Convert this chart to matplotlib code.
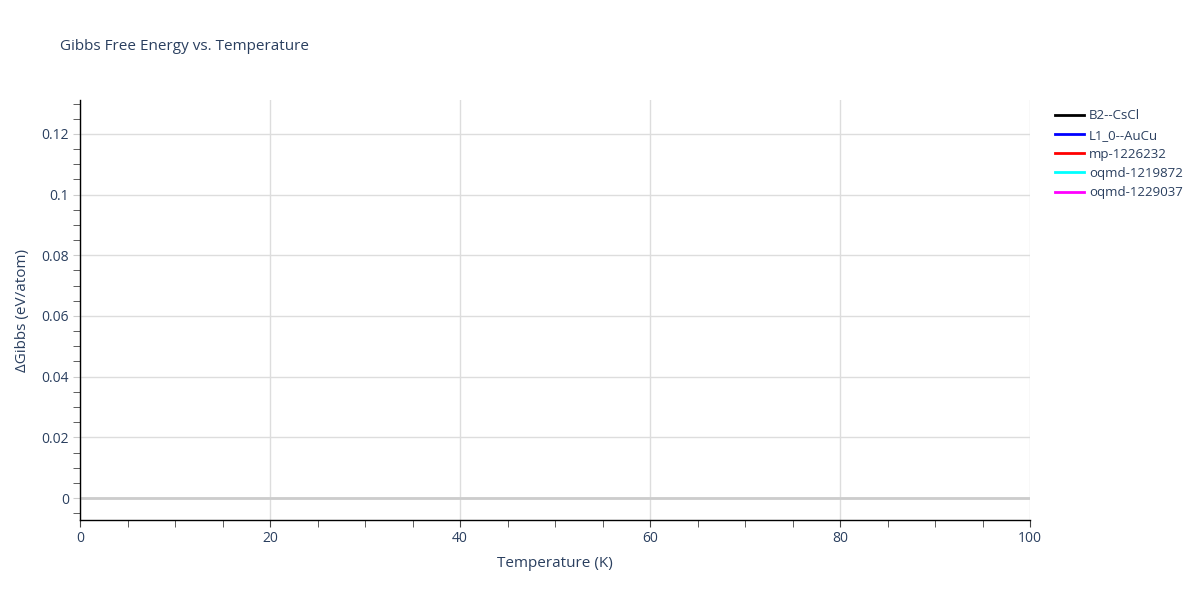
import numpy as np
import matplotlib.pyplot as plt
from matplotlib.ticker import MultipleLocator

# the traces in the reference hold no visible points, so the series are empty
phases = ['B2--CsCl', 'L1_0--AuCu', 'mp-1226232', 'oqmd-1219872', 'oqmd-1229037']
colors = ['black', 'blue', 'red', 'cyan', 'magenta']
temperature = [[], [], [], [], []]
dgibbs = [[], [], [], [], []]

plt.rcParams['font.family'] = ['Open Sans', 'DejaVu Sans']
txt = '#2a3f5f'

fig = plt.figure(figsize=(12, 6), dpi=100)
ax = fig.add_axes([80/1200, 80/600, 950/1200, 420/600])

for name, c, t, g in zip(phases, colors, temperature, dgibbs):
    ax.plot(t, g, color=c, lw=2, label=name)

ax.set_xlim(0, 100)
ax.set_ylim(-0.00725, 0.1312)
ax.xaxis.set_major_locator(MultipleLocator(20))
ax.xaxis.set_minor_locator(MultipleLocator(5))
ax.yaxis.set_major_locator(MultipleLocator(0.02))
ax.yaxis.set_minor_locator(MultipleLocator(0.005))
ax.yaxis.set_major_formatter(plt.FuncFormatter(lambda v, p: '0' if abs(v) < 1e-9 else f'{v:g}'))

ax.grid(True, which='major', color='#dddddd', lw=1)
ax.axhline(0, color='#cccccc', lw=2, zorder=1)
ax.set_axisbelow(True)
for s in ['top', 'right']:
    ax.spines[s].set_visible(False)
for s in ['left', 'bottom']:
    ax.spines[s].set_color('black')
    ax.spines[s].set_linewidth(1)

ax.tick_params(which='major', length=5, color='#cccccc', labelsize=10, labelcolor=txt, pad=3)
ax.tick_params(which='minor', length=5, color='#444444')
ax.tick_params(axis='x', which='major', color='#444444')

ax.set_xlabel('Temperature (K)', fontsize=11, color=txt, labelpad=7)
ax.set_ylabel('ΔGibbs (eV/atom)', fontsize=11, color=txt, labelpad=8)
fig.text(60/1200, 1 - 46/600, 'Gibbs Free Energy vs. Temperature', fontsize=11,
         color=txt, va='center')

ax.legend(loc='upper left', bbox_to_anchor=(1.0205, 0.99), frameon=False,
          fontsize=9.5, labelcolor=txt, handlelength=2.2, handletextpad=0.4,
          labelspacing=0.47, borderaxespad=0)

fig.savefig('out.png')
